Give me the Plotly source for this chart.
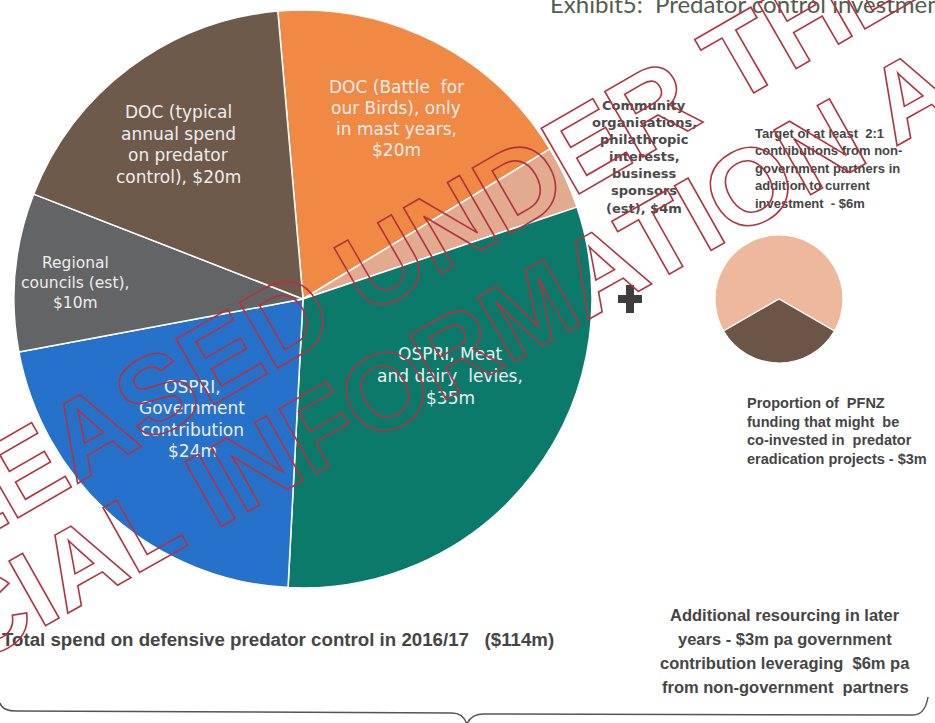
import plotly.graph_objects as go

W, H = 935, 723

# ---- data ----
main_labels = ["DOC (Battle for our Birds), only in mast years", "Community organisations, philathropic interests, business sponsors (est)",
               "OSPRI, Meat and dairy levies", "OSPRI, Government contribution", "Regional councils (est)",
               "DOC (typical annual spend on predator control)"]
main_values = [20, 4, 35, 24, 10, 20]
main_colors = ["#F08944", "#E2AA8F", "#0B7A6B", "#2672CB", "#636465", "#6D5A4B"]

side_labels = ["Target of at least 2:1 contributions from non-government partners", "Proportion of PFNZ funding co-invested"]
side_values = [6, 3]
side_colors = ["#EDB89B", "#6A5547"]

title_text = "Exhibit5:  Predator control investment"
total_text = "Total spend on defensive predator control in 2016/17   ($114m)"
additional_lines = ["Additional resourcing in later", "years - $3m pa government",
                    "contribution leveraging  $6m pa", "from non-government  partners"]
doc_typ_lines = ["DOC (typical", "annual spend", "on predator", "control), $20m"]
doc_bfob_lines = ["DOC (Battle  for", "our Birds), only", "in mast years,", "$20m"]
regional_lines = ["Regional", "councils (est),", "$10m"]
ospri_gov_lines = ["OSPRI,", "Government", "contribution", "$24m"]
ospri_meat_lines = ["OSPRI, Meat", "and dairy  levies,", "$35m"]
community_lines = ["Community", "organisations,", "philathropic", "interests,", "business", "sponsors", "(est), $4m"]
target_lines = ["Target of at least  2:1", "contributions from non-", "government partners in",
                "addition to current", "investment  - $6m"]
proportion_lines = ["Proportion of  PFNZ", "funding that might  be", "co-invested in  predator",
                    "eradication projects - $3m"]
watermark_lines = ["RELEASED UNDER THE", "OFFICIAL INFORMATION ACT"]


def px(x):
    return x / W


def py(y):
    return 1 - y / H


fig = go.Figure()

# main pie: centre (303, 299), radius 289
fig.add_trace(go.Pie(
    labels=main_labels, values=main_values, sort=False, direction="clockwise", rotation=-5,
    marker=dict(colors=main_colors, line=dict(color="white", width=1.5)),
    textinfo="none", hoverinfo="none",
    domain=dict(x=[px(303 - 289), px(303 + 289)], y=[py(299 + 289), py(299 - 289)]),
))

# small pie: centre (779, 299), radius 64
fig.add_trace(go.Pie(
    labels=side_labels, values=side_values, sort=False, direction="clockwise", rotation=-120,
    marker=dict(colors=side_colors, line=dict(color="white", width=1.2)),
    textinfo="none", hoverinfo="none",
    domain=dict(x=[px(779 - 64), px(779 + 64)], y=[py(299 + 64), py(299 - 64)]),
))

ann = []


def block(lines, x, y0, dy, size, color, family, xanchor="center", bold=False):
    for i, t in enumerate(lines):
        ann.append(dict(x=px(x), y=py(y0 + i * dy), xref="paper", yref="paper", text=t,
                        showarrow=False, xanchor=xanchor, yanchor="middle",
                        font=dict(size=size, color=color, family=family,
                                  weight="bold" if bold else "normal")))


light = "#EDEDED"
block(doc_typ_lines, 178, 112, 21.5, 17, light, "DejaVu Sans")
block(doc_bfob_lines, 396, 87, 21, 17, light, "DejaVu Sans")
block(regional_lines, 75, 263, 20, 15.5, light, "DejaVu Sans")
block(ospri_gov_lines, 192, 387, 21.3, 17, light, "DejaVu Sans")
block(ospri_meat_lines, 450, 354, 22, 17, light, "DejaVu Sans")

dark = "#454545"
block(community_lines, 644, 105, 17.2, 13, "#4A4A4A", "DejaVu Sans", bold=True)
block(target_lines, 753, 133, 17.6, 13, dark, "Liberation Sans", xanchor="left", bold=True)
block(proportion_lines, 745, 403, 18.5, 14.5, dark, "Liberation Sans", xanchor="left", bold=True)
block(additional_lines, 785, 615, 24, 16.5, dark, "Liberation Sans", bold=True)
block([total_text], 0, 639, 0, 18.7, dark, "Liberation Sans", xanchor="left", bold=True)

ann.append(dict(x=px(548), y=py(4), xref="paper", yref="paper", text=title_text, showarrow=False,
                xanchor="left", yanchor="middle", font=dict(size=24, color="#515E4C", family="Lato")))

# watermark (outlined text)
wm = "#B3323F"
for t, (cx, cy), ang, fs in zip(watermark_lines, [(352, 281), (404, 380)], [-30, -29.4], [110, 108]):
    ann.append(dict(x=px(cx), y=py(cy), xref="paper", yref="paper",
                    text=f"<span style='fill:none;stroke:{wm};stroke-width:1.6px'>{t}</span>",
                    showarrow=False, xanchor="center", yanchor="middle", textangle=ang,
                    font=dict(size=fs, color=wm, family="Liberation Sans", weight="bold")))

shapes = []
# plus sign
shapes.append(dict(type="rect", xref="paper", yref="paper", x0=px(618), x1=px(642), y0=py(303), y1=py(295),
                   fillcolor="#3E3E3E", line=dict(width=0)))
shapes.append(dict(type="rect", xref="paper", yref="paper", x0=px(626), x1=px(634), y0=py(313), y1=py(285),
                   fillcolor="#3E3E3E", line=dict(width=0)))


def P(x, y):
    return f"{px(x):.5f},{py(y):.5f}"


brace_left = f"M {P(0, 703)} Q {P(2, 711)} {P(16, 711)} L {P(452, 713)} Q {P(463, 713)} {P(467, 724)}"
brace_right = f"M {P(467, 724)} Q {P(471, 714)} {P(484, 714)} L {P(913, 715)} Q {P(925, 715)} {P(928, 697)}"
for d in (brace_left, brace_right):
    shapes.append(dict(type="path", xref="paper", yref="paper", path=d, line=dict(color="#555555", width=1.5)))

fig.update_layout(
    width=W, height=H, margin=dict(l=0, r=0, t=0, b=0), showlegend=False,
    paper_bgcolor="white", plot_bgcolor="white", annotations=ann, shapes=shapes,
)

fig.write_html("out.html")
